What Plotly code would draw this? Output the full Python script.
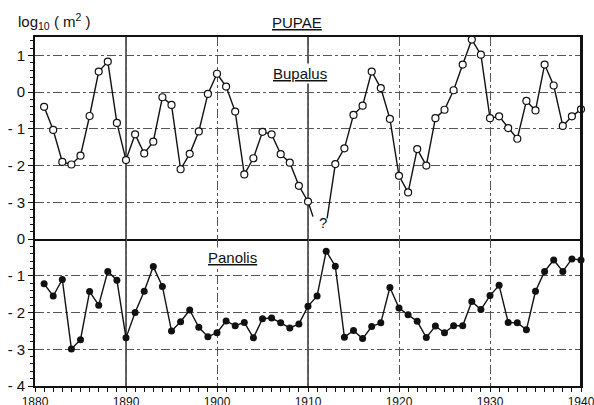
import plotly.graph_objects as go
from plotly.subplots import make_subplots

# ---------------- data ----------------
years = list(range(1881, 1941))

bupalus = [
    -0.40, -1.03, -1.90, -1.97, -1.73, -0.65, 0.56, 0.83, -0.84, -1.85,   # 1881-1890
    -1.15, -1.67, -1.35, -0.14, -0.35, -2.10, -1.68, -1.07, -0.05, 0.50,  # 1891-1900
    0.15, -0.53, -2.24, -1.80, -1.08, -1.15, -1.69, -1.92, -2.55, -2.98,  # 1901-1910
    None, None, -1.96, -1.53, -0.62, -0.37, 0.56, 0.11, -0.73, -2.28,     # 1911-1920
    -2.73, -1.55, -2.00, -0.71, -0.48, 0.05, 0.75, 1.43, 1.02, -0.71,     # 1921-1930
    -0.66, -0.98, -1.27, -0.24, -0.50, 0.75, 0.18, -0.92, -0.66, -0.47,   # 1931-1940
]

panolis = [
    -1.22, -1.55, -1.10, -2.99, -2.74, -1.43, -1.80, -0.88, -1.12, -2.69,  # 1881-1890
    -2.00, -1.42, -0.75, -1.29, -2.50, -2.25, -1.93, -2.40, -2.66, -2.55,  # 1891-1900
    -2.23, -2.36, -2.27, -2.69, -2.17, -2.15, -2.28, -2.42, -2.31, -1.83,  # 1901-1910
    -1.55, -0.33, -0.74, -2.67, -2.49, -2.71, -2.38, -2.28, -1.32, -1.88,  # 1911-1920
    -2.06, -2.24, -2.68, -2.37, -2.55, -2.36, -2.36, -1.70, -1.92, -1.54,  # 1921-1930
    -1.26, -2.27, -2.28, -2.47, -1.42, -0.88, -0.57, -0.88, -0.54, -0.57,  # 1931-1940
]

# open-ended segments around the unknown Bupalus values (1911-1912)
stub_a_x = [1910, 1910.55]
stub_a_y = [-2.98, -3.39]
stub_b_x = [1912.1, 1913]
stub_b_y = [-3.44, -1.96]

top_ticks = [-3, -2, -1, 0, 1]
top_ticktext = ["- 3", "- 2", "- 1", "0", "1"]
bot_ticks = [-4, -3, -2, -1, 0]
bot_ticktext = ["- 4", "- 3", "- 2", "- 1", "0"]
x_ticks = [1880, 1890, 1900, 1910, 1920, 1930, 1940]
solid_grid_years = [1890, 1910]

FONT = "Liberation Sans, Arial, sans-serif"
BLACK = "#111111"
GRID = "#555555"

fig = make_subplots(rows=2, cols=1, shared_xaxes=True, vertical_spacing=0,
                    row_heights=[5.5, 4.0])

line_style = dict(color=BLACK, width=1.4)
open_marker = dict(symbol="circle", size=7, color="white",
                   line=dict(color=BLACK, width=1.2))

fig.add_trace(go.Scatter(x=years, y=bupalus, mode="lines",
                         line=line_style, connectgaps=False,
                         showlegend=False), row=1, col=1)
for sx, sy in [(stub_a_x, stub_a_y), (stub_b_x, stub_b_y)]:
    fig.add_trace(go.Scatter(x=sx, y=sy, mode="lines", line=line_style,
                             showlegend=False), row=1, col=1)
fig.add_trace(go.Scatter(x=years, y=bupalus, mode="markers",
                         marker=open_marker, showlegend=False,
                         cliponaxis=False), row=1, col=1)

fig.add_trace(go.Scatter(x=years, y=panolis, mode="lines+markers",
                         line=line_style,
                         marker=dict(symbol="circle", size=7, color=BLACK),
                         showlegend=False, cliponaxis=False), row=2, col=1)

fig.update_xaxes(range=[1880, 1940], tickvals=x_ticks,
                 showgrid=True, gridcolor=GRID, gridwidth=1, griddash="dashdot",
                 showline=True, linecolor=BLACK, linewidth=1.6, zeroline=False,
                 automargin=False)
fig.update_xaxes(showticklabels=False, ticks="", mirror=True, row=1, col=1)
fig.update_xaxes(mirror=False, ticks="outside", ticklen=4, tickcolor=BLACK,
                 tickwidth=1.2, ticklabeloverflow="allow",
                 minor=dict(dtick=1, ticks="outside", ticklen=4, tickcolor=BLACK,
                            tickwidth=1, showgrid=False),
                 tickfont=dict(family=FONT, size=12, color=BLACK),
                 row=2, col=1)

fig.update_yaxes(range=[-4, 1.5], tickvals=top_ticks, ticktext=top_ticktext,
                 row=1, col=1)
fig.update_yaxes(range=[-4, 0], tickvals=bot_ticks, ticktext=bot_ticktext,
                 row=2, col=1)
fig.update_yaxes(showgrid=True, gridcolor=GRID, gridwidth=1, griddash="dashdot",
                 ticks="outside", ticklen=5, tickcolor=BLACK, tickwidth=1.2,
                 minor=dict(dtick=0.2, ticks="outside", ticklen=3,
                            tickcolor=BLACK, tickwidth=1, showgrid=False),
                 tickfont=dict(family=FONT, size=15, color=BLACK),
                 showline=True, linecolor=BLACK, linewidth=1.6, mirror=True,
                 zeroline=False, automargin=False)

# solid vertical reference lines
for yr in solid_grid_years:
    fig.add_shape(type="line", xref="x", yref="paper", x0=yr, x1=yr, y0=0, y1=1,
                  line=dict(color=BLACK, width=1.3), layer="below")
# right-hand frame edge
fig.add_shape(type="line", xref="paper", yref="paper", x0=1, x1=1, y0=0, y1=1,
              line=dict(color=BLACK, width=2), layer="above")

ann_font = dict(family=FONT, size=15, color=BLACK)
fig.add_annotation(text="<u>PUPAE</u>", xref="paper", yref="paper",
                   x=0.48, y=1.0, yshift=15, showarrow=False, font=ann_font,
                   xanchor="center", yanchor="middle")
fig.add_annotation(text="<u>Bupalus</u>", xref="x", yref="y",
                   x=1909.1, y=0.5, showarrow=False, font=ann_font,
                   bgcolor="white")
fig.add_annotation(text="<u>Panolis</u>", xref="x2", yref="y2",
                   x=1901.7, y=-0.5, showarrow=False, font=ann_font,
                   bgcolor="white")
fig.add_annotation(text="?", xref="x", yref="y", x=1911.7, y=-3.55,
                   showarrow=False, font=ann_font)
fig.add_annotation(text="log<sub>10</sub> ( m<sup>2</sup> )", xref="paper",
                   yref="paper", x=-0.034, y=1.0, yshift=16, showarrow=False,
                   font=dict(family=FONT, size=15, color=BLACK),
                   xanchor="left", yanchor="middle")

fig.update_layout(width=594, height=405,
                  margin=dict(l=35, r=13, t=37, b=19, autoexpand=False),
                  paper_bgcolor="white", plot_bgcolor="white",
                  font=dict(family=FONT, color=BLACK))

fig.write_html("out.html", config={"displayModeBar": False},
               post_script="document.body.style.margin='0';"
                           "document.body.style.padding='0';"
                           "document.body.style.overflow='hidden';"
                           "document.documentElement.style.overflow='hidden';")
